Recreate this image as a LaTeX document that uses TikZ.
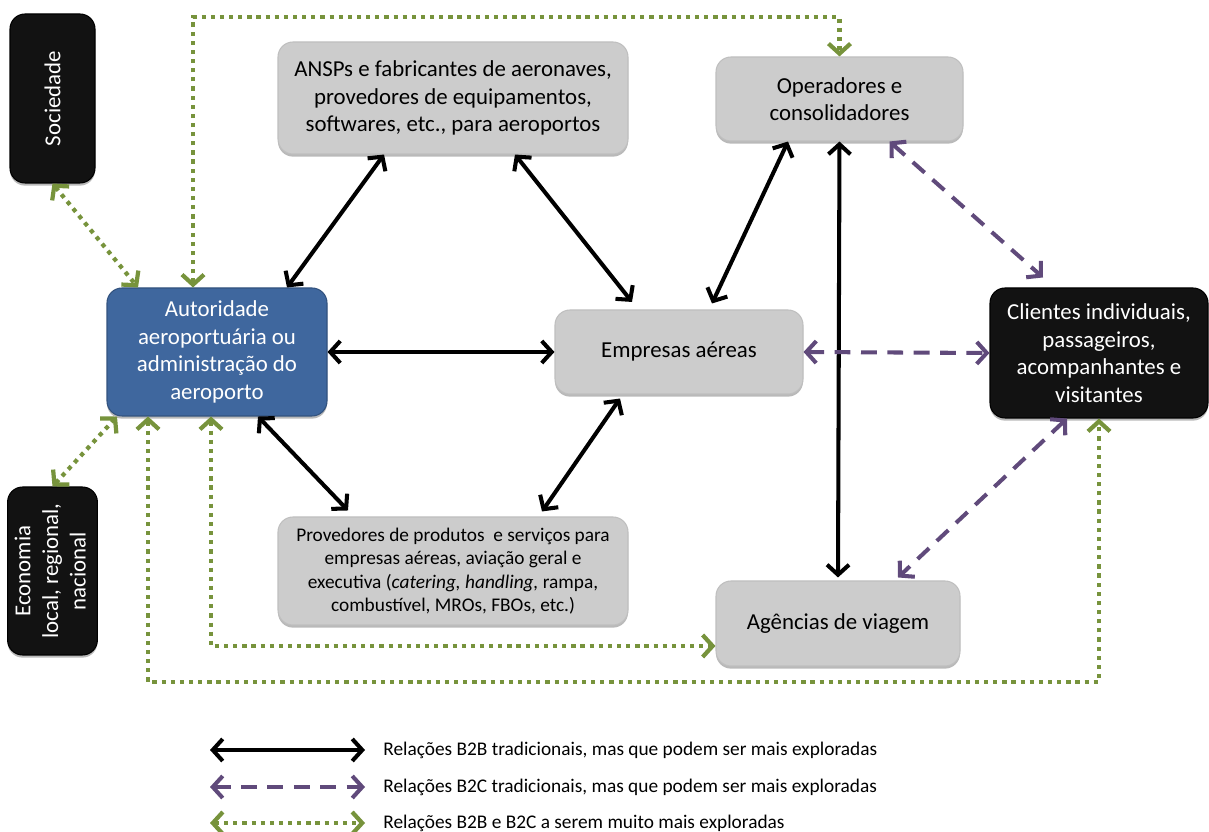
\documentclass[tikz,border=0pt]{standalone}
\usepackage{fontspec}
\usepackage{graphicx}
\setmainfont{Carlito}
\usetikzlibrary{arrows.meta,shadows}
\definecolor{moregreen}{HTML}{77933C}
\definecolor{btocpurple}{HTML}{604A7B}
\definecolor{authblue}{HTML}{3F679E}
\definecolor{boxgray}{HTML}{CCCCCC}

\begin{document}
\begin{tikzpicture}
    \tikzstyle{box}=[rounded corners=0.3cm,align=center,inner sep=2pt,fill=boxgray,draw=black!25,line width=0.6pt,
        drop shadow={shadow xshift=0pt,shadow yshift=-1.5pt,opacity=0.55},font=\fontsize{13}{15.7}\selectfont]
    \tikzstyle{darkbox}=[box,fill=black!93,draw=black,text=white]
    \tikzstyle{bluebox}=[box,fill=authblue,draw=authblue!80!black,text=white]
    \tikzstyle{twoway}=[{Straight Barb[length=0.2cm,width=0.44cm]}-{Straight Barb[length=0.2cm,width=0.44cm]}]
    \tikzstyle{btob}=[twoway,line width=2.3pt,black]
    \tikzstyle{btoc}=[twoway,line width=2.3pt,btocpurple,dash pattern=on 9pt off 6pt]
    \tikzstyle{more}=[twoway,line width=2.4pt,moregreen,dash pattern=on 2.4pt off 2.8pt]
    \tikzstyle{legend}=[anchor=west,inner sep=0pt,font=\fontsize{11}{13}\selectfont]
    \useasboundingbox (0,0) rectangle (24.18,-16.64);
    % actors
    \node[darkbox,minimum width=1.7cm,minimum height=3.38cm] (sociedade) at (1.05,-1.97) {\rotatebox{90}{Sociedade}};
    \node[darkbox,minimum width=1.7cm,minimum height=3.36cm] (economia) at (1.05,-11.42)
        {\rotatebox{90}{\begin{tabular}{@{}c@{}}Economia\\local, regional,\\nacional\end{tabular}}};
    \node[bluebox,minimum width=4.4cm,minimum height=2.56cm] (autoridade) at (4.34,-7.04)
        {Autoridade\\aeroportuária ou\\administração do\\aeroporto};
    \node[box,minimum width=7.0cm,minimum height=2.24cm] (ansps) at (9.06,-1.96)
        {ANSPs e fabricantes de aeronaves,\\provedores de equipamentos,\\softwares, etc., para aeroportos};
    \node[box,minimum width=4.94cm,minimum height=1.68cm] (operadores) at (16.79,-1.98) {Operadores e\\consolidadores};
    \node[box,minimum width=4.96cm,minimum height=1.68cm] (empresas) at (13.58,-7.04) {Empresas aéreas};
    \node[darkbox,minimum width=4.36cm,minimum height=2.6cm] (clientes) at (21.98,-7.06)
        {Clientes individuais,\\passageiros,\\acompanhantes e\\visitantes};
    \node[box,minimum width=7.0cm,minimum height=2.16cm,font=\fontsize{11}{13.3}\selectfont] (provedores) at (9.06,-11.42)
        {Provedores de produtos\ \ e serviços para\\empresas aéreas, aviação geral e\\executiva (\textit{catering, handling,} rampa,\\combustível, MROs, FBOs, etc.)};
    \node[box,minimum width=4.88cm,minimum height=1.7cm] (agencias) at (16.76,-12.47) {Agências de viagem};
    % B2B
    \draw[btob] ([xshift=-1.38cm]ansps.south) -- ([xshift=1.4cm]autoridade.north);
    \draw[btob] ([xshift=1.24cm]ansps.south) -- ([xshift=-0.94cm,yshift=0.15cm]empresas.north);
    \draw[btob] (autoridade.east) -- (empresas.west);
    \draw[btob] ([xshift=0.82cm]autoridade.south) -- ([xshift=-2.1cm,yshift=0.12cm]provedores.north);
    \draw[btob] ([xshift=-1.18cm,yshift=-0.08cm]empresas.south) -- ([xshift=1.78cm,yshift=0.1cm]provedores.north);
    \draw[btob] ([xshift=-1.03cm]operadores.south) -- ([xshift=0.66cm,yshift=0.12cm]empresas.north);
    \draw[btob] (operadores.south) -- ([yshift=0.06cm]agencias.north);
    % B2C
    \draw[btoc] ([xshift=1.0cm]operadores.south) -- ([xshift=-1.12cm,yshift=0.2cm]clientes.north);
    \draw[btoc] (empresas.east) -- (clientes.west);
    \draw[btoc] ([xshift=-0.64cm]clientes.south) -- ([xshift=1.2cm,yshift=0.06cm]agencias.north);
    % relations to be explored
    \coordinate (toprail) at (0,-0.34);
    \coordinate (bottomrail) at (0,-13.64);
    \draw[more] (sociedade.south) -- ([xshift=-1.58cm]autoridade.north);
    \draw[more] ([xshift=-0.48cm]autoridade.north) |- (toprail -| operadores.north) -- (operadores.north);
    \draw[more] (economia.north) -- ([xshift=-2.0cm]autoridade.south);
    \draw[more] ([xshift=-1.38cm]autoridade.south) |- (bottomrail -| clientes.south) -- (clientes.south);
    \draw[more] ([xshift=-0.12cm]autoridade.south) |- ([yshift=-0.45cm]agencias.west);
    % legend
    \node[legend] (legbtob) at (7.66,-15.0) {Relações B2B tradicionais, mas que podem ser mais exploradas};
    \node[legend] (legbtoc) at (7.66,-15.74) {Relações B2C tradicionais, mas que podem ser mais exploradas};
    \node[legend] (legmore) at (7.66,-16.46) {Relações B2B e B2C a serem muito mais exploradas};
    \coordinate (btobstart) at (4.2,-15.0);
    \coordinate (btocstart) at (4.2,-15.74);
    \coordinate (morestart) at (4.2,-16.46);
    \draw[btob] (btobstart) -- ([xshift=-0.36cm]legbtob.west);
    \draw[btoc] (btocstart) -- ([xshift=-0.36cm]legbtoc.west);
    \draw[more] (morestart) -- ([xshift=-0.36cm]legmore.west);
\end{tikzpicture}
\end{document}
